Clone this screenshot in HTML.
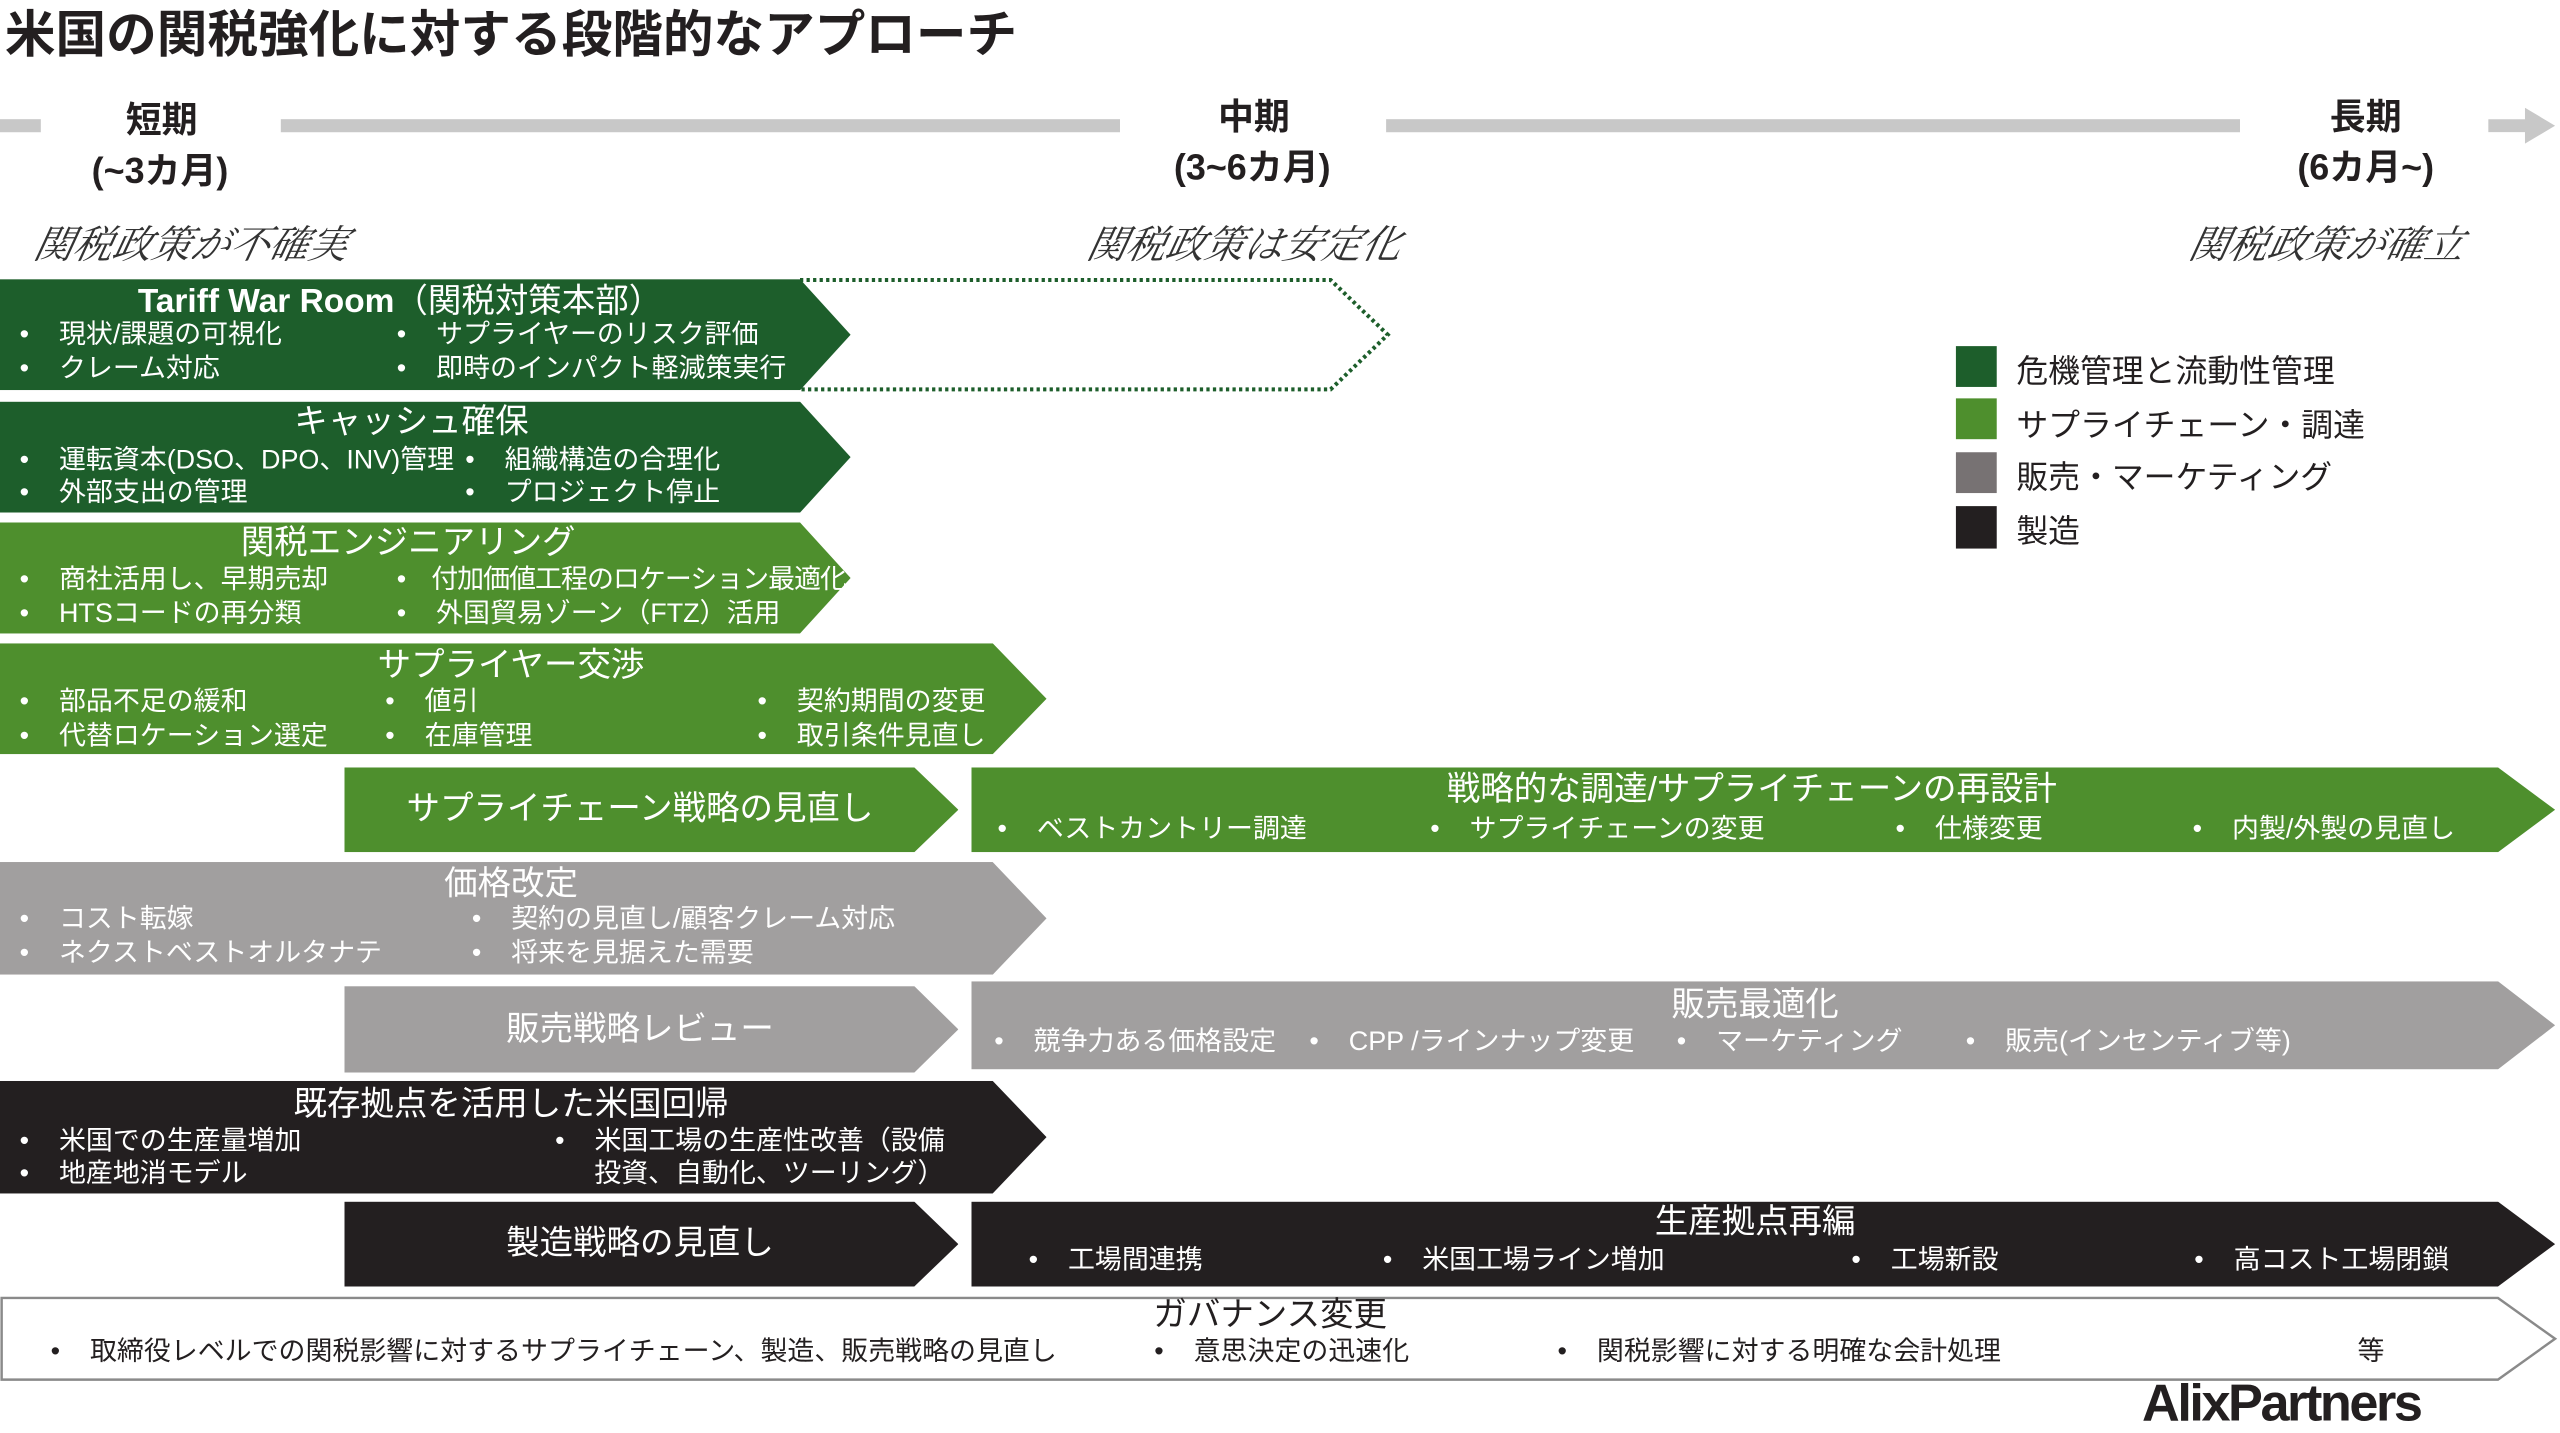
<!DOCTYPE html>
<html><head><meta charset="utf-8"><style>
html,body{margin:0;padding:0;background:#fff;width:2560px;height:1429px;overflow:hidden}
#s{position:absolute;left:0;top:0;width:1568px;height:875px;transform:scale(1.63265);transform-origin:0 0;font-family:"Liberation Sans","Noto Sans CJK JP",sans-serif}
.a{position:absolute;white-space:nowrap}
.c{position:absolute;}
.w{color:#fff}
.t{font-size:20.5px;line-height:20px;transform:translateX(-50%)}
.b{font-size:16.5px;line-height:16px}
.h{font-size:22px;line-height:22px;font-weight:bold;transform:translateX(-50%);color:#231f20}
.i{font-family:"Liberation Serif","Noto Serif CJK JP",serif;font-style:italic;font-size:24px;color:#333;transform:skewX(-12deg)}
.dg{background:#1d5e2b}.lg{background:#4e8f2d}.gr{background:#a19f9f}.bk{background:#231f20}
</style></head><body><div id="s">
<div class="a" style="left:3px;top:-4px;font-size:31px;font-weight:bold;color:#231f20">米国の関税強化に対する段階的なアプローチ</div>
<!-- timeline -->
<div class="c" style="left:0;top:73px;width:25px;height:8px;background:#c8c8c8"></div>
<div class="c" style="left:172px;top:73px;width:514px;height:8px;background:#c8c8c8"></div>
<div class="c" style="left:849px;top:73px;width:523px;height:8px;background:#c8c8c8"></div>
<div class="c" style="left:1524px;top:66px;width:41px;height:22px;background:#c8c8c8;clip-path:polygon(0 32%,55% 32%,55% 0,100% 50%,55% 100%,55% 68%,0 68%)"></div>
<div class="a h" style="left:99px;top:63px">短期</div>
<div class="a h" style="left:98px;top:94px">(~3カ月)</div>
<div class="a h" style="left:768px;top:61px">中期</div>
<div class="a h" style="left:767px;top:92px">(3~6カ月)</div>
<div class="a h" style="left:1449px;top:61px">長期</div>
<div class="a h" style="left:1449px;top:92px">(6カ月~)</div>
<div class="a i" style="left:22px;top:130px">関税政策が不確実</div>
<div class="a i" style="left:667px;top:130px">関税政策は安定化</div>
<div class="a i" style="left:1342px;top:130px">関税政策が確立</div>
<!-- legend -->
<div class="c dg" style="left:1198px;top:212px;width:25px;height:25px"></div>
<div class="c lg" style="left:1198px;top:244px;width:25px;height:25px"></div>
<div class="c" style="left:1198px;top:277px;width:25px;height:25px;background:#777273"></div>
<div class="c bk" style="left:1198px;top:310px;width:25px;height:26px"></div>
<div class="a" style="left:1235px;top:211px;font-size:19.5px;color:#231f20">危機管理と流動性管理</div>
<div class="a" style="left:1235px;top:244px;font-size:19.5px;color:#231f20">サプライチェーン・調達</div>
<div class="a" style="left:1235px;top:276px;font-size:19.5px;color:#231f20">販売・マーケティング</div>
<div class="a" style="left:1235px;top:309px;font-size:19.5px;color:#231f20">製造</div>
<!-- shapes -->
<svg class="c" style="left:0;top:0" width="1568" height="875">
<polyline points="490,171.5 815,171.5 850,205 815,238.5 490,238.5" fill="none" stroke="#1d5e2b" stroke-width="2.5" stroke-dasharray="2,2"/>
<polygon points="1,795 1530,795 1565,820 1530,845 1,845" fill="#fff" stroke="#8a8a8a" stroke-width="1.5"/>
</svg>
<div class="c dg" style="left:0;top:171px;width:521px;height:68px;clip-path:polygon(0 0,490px 0,100% 50%,490px 100%,0 100%)"></div>
<div class="c dg" style="left:0;top:246px;width:521px;height:68px;clip-path:polygon(0 0,490px 0,100% 50%,490px 100%,0 100%)"></div>
<div class="c lg" style="left:0;top:320px;width:521px;height:68px;clip-path:polygon(0 0,490px 0,100% 50%,490px 100%,0 100%)"></div>
<div class="c lg" style="left:0;top:394px;width:641px;height:68px;clip-path:polygon(0 0,608px 0,100% 50%,608px 100%,0 100%)"></div>
<div class="c lg" style="left:211px;top:470px;width:376px;height:52px;clip-path:polygon(0 0,349px 0,100% 50%,349px 100%,0 100%)"></div>
<div class="c lg" style="left:595px;top:470px;width:970px;height:52px;clip-path:polygon(0 0,935px 0,100% 50%,935px 100%,0 100%)"></div>
<div class="c gr" style="left:0;top:528px;width:641px;height:69px;clip-path:polygon(0 0,608px 0,100% 50%,608px 100%,0 100%)"></div>
<div class="c gr" style="left:211px;top:604px;width:376px;height:53px;clip-path:polygon(0 0,349px 0,100% 50%,349px 100%,0 100%)"></div>
<div class="c gr" style="left:595px;top:601px;width:970px;height:54px;clip-path:polygon(0 0,935px 0,100% 50%,935px 100%,0 100%)"></div>
<div class="c bk" style="left:0;top:662px;width:641px;height:69px;clip-path:polygon(0 0,608px 0,100% 50%,608px 100%,0 100%)"></div>
<div class="c bk" style="left:211px;top:736px;width:376px;height:52px;clip-path:polygon(0 0,349px 0,100% 50%,349px 100%,0 100%)"></div>
<div class="c bk" style="left:595px;top:736px;width:970px;height:52px;clip-path:polygon(0 0,935px 0,100% 50%,935px 100%,0 100%)"></div>
<!-- row1 -->
<div class="a w t" style="left:245px;top:175px"><b>Tariff War Room</b>（関税対策本部）</div>
<div class="a w b" style="left:12px;top:197px">•&nbsp;&nbsp;&nbsp;&nbsp;現状/課題の可視化</div>
<div class="a w b" style="left:12px;top:218px">•&nbsp;&nbsp;&nbsp;&nbsp;クレーム対応</div>
<div class="a w b" style="left:243px;top:197px">•&nbsp;&nbsp;&nbsp;&nbsp;サプライヤーのリスク評価</div>
<div class="a w b" style="left:243px;top:218px">•&nbsp;&nbsp;&nbsp;&nbsp;即時のインパクト軽減策実行</div>
<!-- row2 -->
<div class="a w t" style="left:252px;top:249px">キャッシュ確保</div>
<div class="a w b" style="left:12px;top:274px">•&nbsp;&nbsp;&nbsp;&nbsp;運転資本(DSO、DPO、INV)管理</div>
<div class="a w b" style="left:12px;top:294px">•&nbsp;&nbsp;&nbsp;&nbsp;外部支出の管理</div>
<div class="a w b" style="left:285px;top:274px">•&nbsp;&nbsp;&nbsp;&nbsp;組織構造の合理化</div>
<div class="a w b" style="left:285px;top:294px">•&nbsp;&nbsp;&nbsp;&nbsp;プロジェクト停止</div>
<!-- row3 -->
<div class="a w t" style="left:250px;top:323px">関税エンジニアリング</div>
<div class="a w b" style="left:12px;top:347px">•&nbsp;&nbsp;&nbsp;&nbsp;商社活用し、早期売却</div>
<div class="a w b" style="left:12px;top:368px">•&nbsp;&nbsp;&nbsp;&nbsp;HTSコードの再分類</div>
<div class="a w b" style="left:243px;top:347px;letter-spacing:-0.6px">•&nbsp;&nbsp;&nbsp;&nbsp;付加価値工程のロケーション最適化</div>
<div class="a w b" style="left:243px;top:368px">•&nbsp;&nbsp;&nbsp;&nbsp;外国貿易ゾーン（FTZ）活用</div>
<!-- row4 -->
<div class="a w t" style="left:313px;top:398px">サプライヤー交渉</div>
<div class="a w b" style="left:12px;top:422px">•&nbsp;&nbsp;&nbsp;&nbsp;部品不足の緩和</div>
<div class="a w b" style="left:12px;top:443px">•&nbsp;&nbsp;&nbsp;&nbsp;代替ロケーション選定</div>
<div class="a w b" style="left:236px;top:422px">•&nbsp;&nbsp;&nbsp;&nbsp;値引</div>
<div class="a w b" style="left:236px;top:443px">•&nbsp;&nbsp;&nbsp;&nbsp;在庫管理</div>
<div class="a w b" style="left:464px;top:422px">•&nbsp;&nbsp;&nbsp;&nbsp;契約期間の変更</div>
<div class="a w b" style="left:464px;top:443px">•&nbsp;&nbsp;&nbsp;&nbsp;取引条件見直し</div>
<!-- row5 -->
<div class="a w t" style="left:392px;top:486px">サプライチェーン戦略の見直し</div>
<div class="a w t" style="left:1073px;top:474px">戦略的な調達/サプライチェーンの再設計</div>
<div class="a w b" style="left:611px;top:500px">•&nbsp;&nbsp;&nbsp;&nbsp;ベストカントリー調達</div>
<div class="a w b" style="left:876px;top:500px">•&nbsp;&nbsp;&nbsp;&nbsp;サプライチェーンの変更</div>
<div class="a w b" style="left:1161px;top:500px">•&nbsp;&nbsp;&nbsp;&nbsp;仕様変更</div>
<div class="a w b" style="left:1343px;top:500px">•&nbsp;&nbsp;&nbsp;&nbsp;内製/外製の見直し</div>
<!-- row6 -->
<div class="a w t" style="left:313px;top:532px">価格改定</div>
<div class="a w b" style="left:12px;top:555px">•&nbsp;&nbsp;&nbsp;&nbsp;コスト転嫁</div>
<div class="a w b" style="left:12px;top:576px">•&nbsp;&nbsp;&nbsp;&nbsp;ネクストベストオルタナテ</div>
<div class="a w b" style="left:289px;top:555px">•&nbsp;&nbsp;&nbsp;&nbsp;契約の見直し/顧客クレーム対応</div>
<div class="a w b" style="left:289px;top:576px">•&nbsp;&nbsp;&nbsp;&nbsp;将来を見据えた需要</div>
<!-- row7 -->
<div class="a w t" style="left:392px;top:621px">販売戦略レビュー</div>
<div class="a w t" style="left:1075px;top:606px">販売最適化</div>
<div class="a w b" style="left:609px;top:630px">•&nbsp;&nbsp;&nbsp;&nbsp;競争力ある価格設定</div>
<div class="a w b" style="left:802px;top:630px">•&nbsp;&nbsp;&nbsp;&nbsp;CPP /ラインナップ変更</div>
<div class="a w b" style="left:1027px;top:630px">•&nbsp;&nbsp;&nbsp;&nbsp;マーケティング</div>
<div class="a w b" style="left:1204px;top:630px">•&nbsp;&nbsp;&nbsp;&nbsp;販売(インセンティブ等)</div>
<!-- row8 -->
<div class="a w t" style="left:313px;top:667px">既存拠点を活用した米国回帰</div>
<div class="a w b" style="left:12px;top:691px">•&nbsp;&nbsp;&nbsp;&nbsp;米国での生産量増加</div>
<div class="a w b" style="left:12px;top:711px">•&nbsp;&nbsp;&nbsp;&nbsp;地産地消モデル</div>
<div class="a w b" style="left:340px;top:691px">•&nbsp;&nbsp;&nbsp;&nbsp;米国工場の生産性改善（設備</div>
<div class="a w b" style="left:364px;top:711px">投資、自動化、ツーリング）</div>
<!-- row9 -->
<div class="a w t" style="left:392px;top:752px">製造戦略の見直し</div>
<div class="a w t" style="left:1075px;top:739px">生産拠点再編</div>
<div class="a w b" style="left:630px;top:764px">•&nbsp;&nbsp;&nbsp;&nbsp;工場間連携</div>
<div class="a w b" style="left:847px;top:764px">•&nbsp;&nbsp;&nbsp;&nbsp;米国工場ライン増加</div>
<div class="a w b" style="left:1134px;top:764px">•&nbsp;&nbsp;&nbsp;&nbsp;工場新設</div>
<div class="a w b" style="left:1344px;top:764px">•&nbsp;&nbsp;&nbsp;&nbsp;高コスト工場閉鎖</div>
<!-- row10 -->
<div class="a t" style="left:778px;top:796px;color:#231f20">ガバナンス変更</div>
<div class="a b" style="left:31px;top:820px;color:#231f20">•&nbsp;&nbsp;&nbsp;&nbsp;取締役レベルでの関税影響に対するサプライチェーン、製造、販売戦略の見直し</div>
<div class="a b" style="left:707px;top:820px;color:#231f20">•&nbsp;&nbsp;&nbsp;&nbsp;意思決定の迅速化</div>
<div class="a b" style="left:954px;top:820px;color:#231f20">•&nbsp;&nbsp;&nbsp;&nbsp;関税影響に対する明確な会計処理</div>
<div class="a b" style="left:1444px;top:820px;color:#231f20">等</div>
<div class="a" style="left:1312px;top:841px;font-size:32px;font-weight:bold;letter-spacing:-1.5px;color:#231f20">AlixPartners</div>
</div></body></html>
